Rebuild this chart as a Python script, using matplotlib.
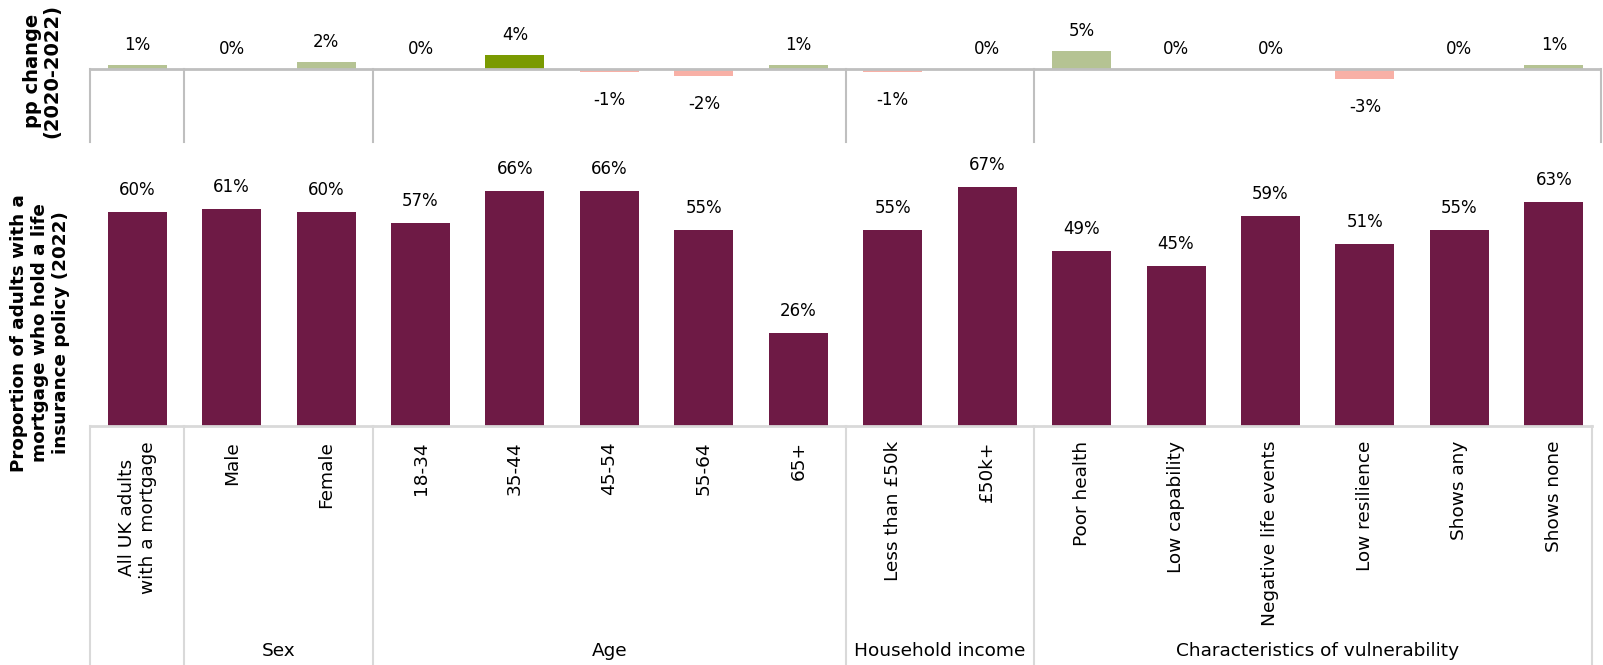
import matplotlib
matplotlib.use("Agg")
import matplotlib.pyplot as plt

plt.rcParams['font.family'] = ['DejaVu Sans']

# Categories and values
categories = ["All UK adults\nwith a mortgage", "Male", "Female",
              "18-34", "35-44", "45-54", "55-64", "65+",
              "Less than \u00a350k", "\u00a350k+",
              "Poor health", "Low capability", "Negative life events",
              "Low resilience", "Shows any", "Shows none"]
share_2022 = [60, 61, 60, 57, 66, 66, 55, 26, 55, 67, 49, 45, 59, 51, 55, 63]
pp_change = [1, 0, 2, 0, 4, -1, -2, 1, -1, 0, 5, 0, 0, -3, 0, 1]
significant = [False, False, False, False, True, False, False, False,
               False, False, False, False, False, False, False, False]

# Groups: (label, first index, last index)
groups = [("", 0, 0), ("Sex", 1, 2), ("Age", 3, 7),
          ("Household income", 8, 9), ("Characteristics of vulnerability", 10, 15)]

MAROON = "#6E1A45"
GREEN_LIGHT = "#B5C393"
GREEN_DARK = "#7A9A01"
PINK = "#F8B0A6"
LINE_GREY = "#BFBFBF"
SEP_GREY = "#D9D9D9"

W, H = 1603, 665
fig = plt.figure(figsize=(W / 100, H / 100), dpi=100)

left = 90 / W
width = (1601 - 90) / W
ax_top = fig.add_axes([left, 1 - 142 / H, width, 142 / H])
ax_bot = fig.add_axes([left, 1 - 426 / H, width, (426 - 145) / H])

x = list(range(len(categories)))
bar_w = 0.625

# --- top panel: percentage point change ---
colors = []
for v, s in zip(pp_change, significant):
    if v < 0:
        colors.append(PINK)
    elif s:
        colors.append(GREEN_DARK)
    else:
        colors.append(GREEN_LIGHT)
ax_top.bar(x, pp_change, width=bar_w, color=colors, zorder=2)
ax_top.set_xlim(-0.5, 15.5)
ax_top.set_ylim(-20.9, 19.7)
ax_top.axhline(0, color=LINE_GREY, lw=2, zorder=3)
for v, xi in zip(pp_change, x):
    if v < 0:
        ax_top.annotate(f"{v}%", xy=(xi, v), xytext=(0, -19), textcoords='offset pixels',
                        ha='center', va='top', fontsize=12)
    else:
        ax_top.annotate(f"{v}%", xy=(xi, v), xytext=(0, 11), textcoords='offset pixels',
                        ha='center', va='bottom', fontsize=12)

bounds = [-0.5] + [g[2] + 0.5 for g in groups]
for b in bounds:
    ax_top.plot([b, b], [-20.9, 0], color=LINE_GREY, lw=1.5, clip_on=False, zorder=1)

# --- bottom panel: share holding life insurance ---
ax_bot.bar(x, share_2022, width=bar_w, color=MAROON, zorder=2)
ax_bot.set_xlim(-0.5, 15.5)
ax_bot.set_ylim(0, 78.9)
ax_bot.plot([-0.5, 15.4], [0, 0], color=SEP_GREY, lw=2, clip_on=False, zorder=3)
for v, xi in zip(share_2022, x):
    ax_bot.annotate(f"{v}%", xy=(xi, v), xytext=(0, 13), textcoords='offset pixels',
                    ha='center', va='bottom', fontsize=12)

trans = ax_bot.get_xaxis_transform()
below = -(H - 426) / (426 - 145)
for b in bounds[:-1] + [15.4]:
    ax_bot.plot([b, b], [0, below], color=SEP_GREY, lw=1.5, transform=trans,
                clip_on=False, zorder=1)

for xi, lab in zip(x, categories):
    ax_bot.annotate(lab, xy=(xi, 0), xycoords=trans, xytext=(0, -15),
                    textcoords='offset pixels', rotation=90, ha='center', va='top',
                    multialignment='center', fontsize=13.3)

for name, a, b in groups:
    if name:
        ax_bot.annotate(name, xy=((a + b) / 2, 0), xycoords=trans, xytext=(0, -225),
                        textcoords='offset pixels', ha='center', va='center',
                        fontsize=13.3)

for ax in (ax_top, ax_bot):
    ax.axis('off')

fig.text(42 / W, 1 - 71 / H, "pp change\n(2020-2022)", rotation=90, ha='center',
         va='center', multialignment='center', fontsize=14, fontweight='bold',
         linespacing=1.0)
fig.text(40 / W, 1 - 333 / H,
         "Proportion of adults with a\nmortgage who hold a life\ninsurance policy (2022)",
         rotation=90, ha='center', va='center', multialignment='center',
         fontsize=13.2, fontweight='bold', linespacing=1.2)

fig.savefig("out.png", dpi=100)
